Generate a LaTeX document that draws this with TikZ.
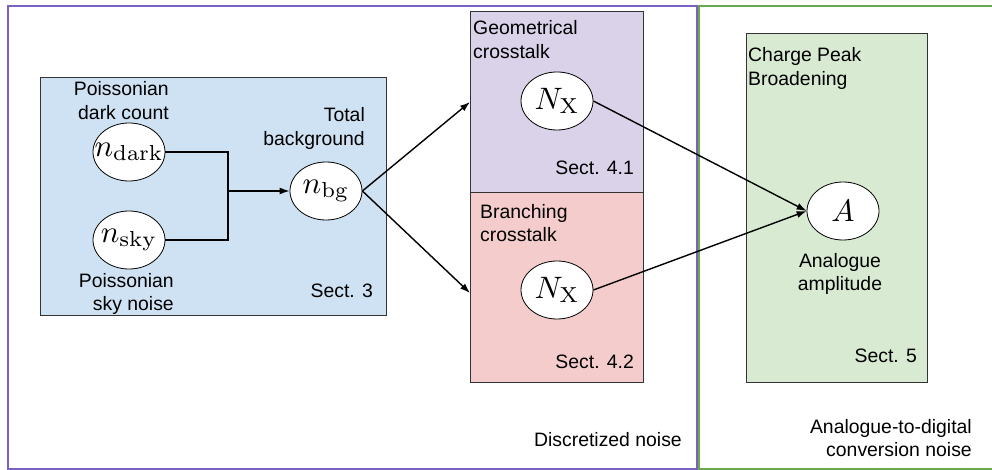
\documentclass[tikz,border=0pt]{standalone}
\usepackage[no-math]{fontspec}
\usepackage{graphicx}
\newfontfamily\arialish{Liberation Sans}
\usetikzlibrary{arrows.meta,shapes.geometric}
\definecolor{bluefill}{HTML}{CFE2F3}
\definecolor{purplefill}{HTML}{D9D2E9}
\definecolor{redfill}{HTML}{F4CCCC}
\definecolor{greenfill}{HTML}{D9EAD3}
\definecolor{purpleedge}{HTML}{7B61C4}
\definecolor{greenedge}{HTML}{6AA84F}
\newcommand{\bigmath}[1]{\makebox[0pt][c]{\scalebox{3.1}{$#1$}}}
\tikzset{
  lbl/.style={inner sep=0pt, font=\arialish\fontsize{19.4}{23.5}\selectfont},
  var/.style={ellipse, draw=black, line width=0.8pt, fill=white, inner sep=0pt,
    minimum width=72pt, minimum height=58pt},
  panel/.style={draw=black!80, line width=0.8pt},
  conn/.style={line width=1.4pt, -{Latex[length=10pt,width=7pt]}},
  plain/.style={line width=1.4pt}
}
\begin{document}
\begin{tikzpicture}[x=1pt,y=-1pt]
\useasboundingbox (0,0) rectangle (992,470);
\begin{scope}
\clip (0,0) rectangle (992,470);
% outer regions
\draw[purpleedge, line width=2pt] (8,6) rectangle (697,469);
\draw[greenedge, line width=2.8pt] (699,6) rectangle (1000,469);
% panels
\draw[panel, fill=bluefill] (40,77) rectangle (386,315);
\draw[panel, fill=purplefill] (470,11) rectangle (643,192);
\draw[panel, fill=redfill] (470,192) rectangle (643,382);
\draw[panel, fill=greenfill] (746,33) rectangle (927,382);
\end{scope}

% variables
\node[var] (dark) at (129,152) {\bigmath{n_{\mathrm{dark}}}};
\node[var] (sky) at (129,240) {\bigmath{n_{\mathrm{sky}}}};
\node[var] (bg) at (326,191) {\bigmath{n_{\mathrm{bg}}}};
\node[var] (nx1) at (557,101) {\bigmath{N_{\mathrm{X}}}};
\node[var] (nx2) at (557,290) {\bigmath{N_{\mathrm{X}}}};
\node[var] (amp) at (843,211) {\bigmath{A}};

% connectors
\coordinate (jdark) at (228,152);
\coordinate (jsky) at (228,240);
\coordinate (j) at (228,191);
\coordinate (geoin) at (470,102);
\coordinate (brin) at (470,293);
\draw[plain] (dark.east) -- (jdark) -- (jsky) -- (sky.east);
\draw[conn] (j) -- (bg.west);
\draw[conn] (bg.east) -- (geoin);
\draw[conn] (bg.east) -- (brin);
\draw[conn] (nx1.east) -- (amp.west);
\draw[conn] (nx2.east) -- (amp.west);

% labels (base anchor = baseline of the last line)
\node[lbl, anchor=base east, align=right] (ldark) at (169,119.5) {Poissonian\\dark count};
\node[lbl, anchor=base east, align=right] (ltot) at (365,145.5) {Total\\background};
\node[lbl, anchor=base east, align=right] (lsky) at (174,310.5) {Poissonian\\sky noise};
\node[lbl, anchor=base east] (s3) at (373,297) {Sect. 3};
\node[lbl, anchor=base west, align=left] (lgeo) at (473,58.5) {Geometrical\\crosstalk};
\node[lbl, anchor=base east] (s41) at (634,175) {Sect. 4.1};
\node[lbl, anchor=base west, align=left] (lbr) at (480,241.5) {Branching\\crosstalk};
\node[lbl, anchor=base east] (s42) at (634,368) {Sect. 4.2};
\node[lbl, anchor=base west, align=left] (lcpb) at (748,85.5) {Charge Peak\\Broadening};
\node[lbl, anchor=base, align=center] (lamp) at (840,290.5) {Analogue\\amplitude};
\node[lbl, anchor=base east] (s5) at (917,362) {Sect. 5};
\node[lbl, anchor=base east] (ldisc) at (682,446) {Discretized noise};
\node[lbl, anchor=base east, align=right] (ladc) at (972,456.5) {Analogue-to-digital\\conversion noise};
\end{tikzpicture}
\end{document}
